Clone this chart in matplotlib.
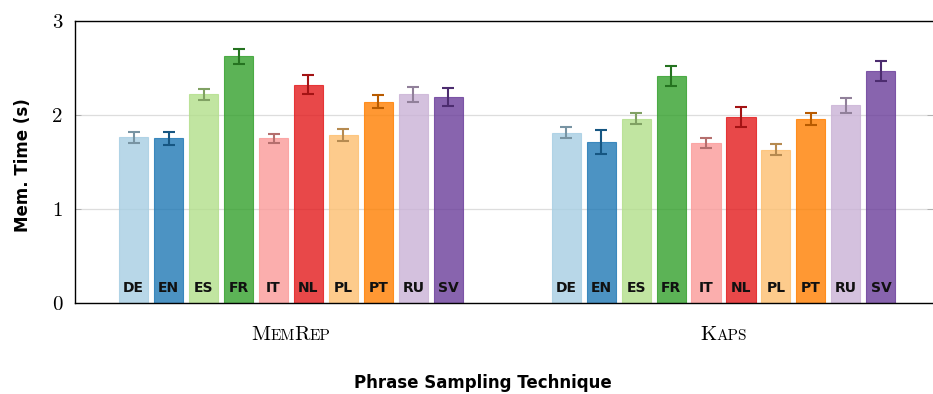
import matplotlib
matplotlib.use('Agg')
import matplotlib.pyplot as plt
import matplotlib.colors as mcolors
import numpy as np
from matplotlib.offsetbox import TextArea, HPacker, AnnotationBbox

# data
languages = ['DE', 'EN', 'ES', 'FR', 'IT', 'NL', 'PL', 'PT', 'RU', 'SV']
groups = ['MemRep', 'Kaps']
memrep_mean = [1.76, 1.75, 2.22, 2.62, 1.75, 2.32, 1.79, 2.14, 2.22, 2.19]
memrep_err = [0.055, 0.065, 0.06, 0.08, 0.05, 0.10, 0.062, 0.07, 0.08, 0.097]
kaps_mean = [1.81, 1.71, 1.96, 2.41, 1.70, 1.98, 1.63, 1.96, 2.10, 2.47]
kaps_err = [0.057, 0.13, 0.06, 0.105, 0.05, 0.106, 0.057, 0.065, 0.078, 0.105]
yticks = [0, 1, 2, 3]

base_colors = ['#a6cee3', '#1f78b4', '#b2df8a', '#33a02c', '#fb9a99',
               '#e31a1c', '#fdbf6f', '#ff7f00', '#cab2d6', '#6a3d9a']

fig = plt.figure(figsize=(9.33, 3.94), dpi=100)
ax = fig.add_axes([0.0804, 0.2302, 0.9196, 0.7173])

pitch = 0.0809
width = 0.0671
means = [memrep_mean, kaps_mean]
errs = [memrep_err, kaps_err]
for g in range(len(groups)):
    for i, lang in enumerate(languages):
        xpos = g + (i - 4.5) * pitch
        c = mcolors.to_rgb(base_colors[i])
        dark = tuple(v * 0.72 for v in c)
        ax.bar(xpos, means[g][i], width, color=c, alpha=0.8, edgecolor=c,
               linewidth=0.8, zorder=2)
        ax.errorbar(xpos, means[g][i], yerr=errs[g][i], fmt='none',
                    ecolor=dark, elinewidth=1.5, capsize=4, capthick=1.5,
                    zorder=3)
        ax.text(xpos, 0.16, lang, ha='center', va='center', fontsize=10,
                fontweight='bold', color='#111111', zorder=4)

ax.set_xlim(-0.4994, 1.4844)
ax.set_ylim(0, 3)
ax.set_yticks(yticks)
ax.set_yticklabels([str(t) for t in yticks], family='cmr10', fontsize=15)
ax.set_xticks([])
ax.tick_params(axis='y', direction='in', length=4, width=0.6, color='#aaaaaa',
               right=True, pad=9)
ax.yaxis.grid(True, color='#dddddd', linewidth=0.9, zorder=0)
ax.set_axisbelow(True)
for s in ['top', 'left', 'bottom']:
    ax.spines[s].set_linewidth(1.0)
ax.spines['right'].set_visible(False)

# small caps group labels
def small_caps(parts, xg):
    boxes = []
    for txt, big in parts:
        boxes.append(TextArea(txt, textprops=dict(family='cmr10',
                                                  fontsize=15 if big else 11)))
    pack = HPacker(children=boxes, align='baseline', pad=0, sep=0)
    ab = AnnotationBbox(pack, (xg, 0), xybox=(0, -23), xycoords=('data', 'axes fraction'),
                        boxcoords='offset points', frameon=False, box_alignment=(0.5, 0.5))
    ax.add_artist(ab)

small_caps([('M', True), ('EM', False), ('R', True), ('EP', False)], 0)
small_caps([('K', True), ('APS', False)], 1)

fig.text(23 / 933, 1 - 165 / 394, 'Mem. Time (s)', rotation=90, ha='center',
         va='center', fontsize=12, fontweight='bold')
fig.text(483 / 933, 1 - 383 / 394, 'Phrase Sampling Technique', ha='center',
         va='center', fontsize=12, fontweight='bold')

fig.savefig('out.png', dpi=100)
